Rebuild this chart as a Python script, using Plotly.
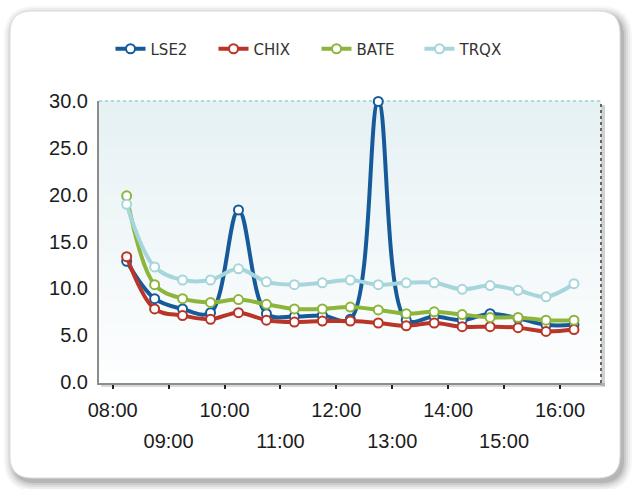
import plotly.graph_objects as go

# ---------------- data ----------------
times = ["2024-01-02 08:15", "2024-01-02 08:45", "2024-01-02 09:15", "2024-01-02 09:45",
         "2024-01-02 10:15", "2024-01-02 10:45", "2024-01-02 11:15", "2024-01-02 11:45",
         "2024-01-02 12:15", "2024-01-02 12:45", "2024-01-02 13:15", "2024-01-02 13:45",
         "2024-01-02 14:15", "2024-01-02 14:45", "2024-01-02 15:15", "2024-01-02 15:45",
         "2024-01-02 16:15"]
lse2 = [12.9, 8.9, 7.8, 7.4, 18.4, 7.3, 7.0, 7.1, 6.7, 30.0, 6.6, 7.0, 6.6, 7.3, 6.8, 6.1, 6.1]
chix = [13.4, 7.8, 7.1, 6.7, 7.4, 6.6, 6.4, 6.5, 6.5, 6.3, 6.0, 6.3, 5.9, 5.9, 5.8, 5.4, 5.6]
bate = [19.9, 10.4, 8.9, 8.5, 8.8, 8.3, 7.8, 7.8, 8.0, 7.7, 7.3, 7.5, 7.2, 6.9, 6.9, 6.6, 6.6]
trqx = [19.0, 12.3, 10.9, 10.9, 12.1, 10.7, 10.4, 10.6, 10.9, 10.4, 10.6, 10.6, 9.9, 10.3, 9.8, 9.1, 10.5]
series_names = ["LSE2", "CHIX", "BATE", "TRQX"]

hour_ticks = ["2024-01-02 08:00", "2024-01-02 09:00", "2024-01-02 10:00", "2024-01-02 11:00",
              "2024-01-02 12:00", "2024-01-02 13:00", "2024-01-02 14:00", "2024-01-02 15:00",
              "2024-01-02 16:00"]
hour_labels = ["08:00", "09:00", "10:00", "11:00", "12:00", "13:00", "14:00", "15:00", "16:00"]
y_ticks = [0, 5, 10, 15, 20, 25, 30]

# ---------------- style ----------------
colors = ["#175a9a", "#b83527", "#8db53c", "#a6d6db"]
W, H = 633, 489
L, R, T, B = 99, 601, 101, 383

def px(x):
    return (x - L) / (R - L)

def py(y):
    return (B - y) / (B - T)

def rrect(x0, y0, x1, y1, r):
    return (f"M {px(x0 + r)},{py(y0)} L {px(x1 - r)},{py(y0)} "
            f"Q {px(x1)},{py(y0)} {px(x1)},{py(y0 + r)} L {px(x1)},{py(y1 - r)} "
            f"Q {px(x1)},{py(y1)} {px(x1 - r)},{py(y1)} L {px(x0 + r)},{py(y1)} "
            f"Q {px(x0)},{py(y1)} {px(x0)},{py(y1 - r)} L {px(x0)},{py(y0 + r)} "
            f"Q {px(x0)},{py(y0)} {px(x0 + r)},{py(y0)} Z")

fig = go.Figure()
for name, vals, col in zip(series_names, [lse2, chix, bate, trqx], colors):
    fig.add_trace(go.Scatter(
        x=times, y=vals, name=name, mode="lines+markers",
        line=dict(color=col, width=4, shape="spline", smoothing=1),
        marker=dict(size=9, color="white", line=dict(color=col, width=2)),
        cliponaxis=False, hoverinfo="skip"))

# helper trace so the second (odd-hour label) axis exists
fig.add_trace(go.Scatter(x=[times[0]], y=[lse2[0]], xaxis="x2", mode="markers",
                         marker=dict(opacity=0), showlegend=False, hoverinfo="skip"))

shapes = []
# frame shadow
FX0, FY0, FX1, FY1, FR = 10, 11, 620, 478, 22
for e, a in [(9, 0.035), (7, 0.045), (5, 0.06), (3, 0.08), (1, 0.10)]:
    shapes.append(dict(type="path", xref="paper", yref="paper", layer="below",
                       path=rrect(FX0 - e + 3, FY0 - e + 4, FX1 + e + 3, FY1 + e + 4, FR + e),
                       fillcolor=f"rgba(0,0,0,{a})", line=dict(width=0)))
# frame
shapes.append(dict(type="path", xref="paper", yref="paper", layer="below",
                   path=rrect(FX0, FY0, FX1, FY1, FR), fillcolor="white",
                   line=dict(color="#dcdcdc", width=1)))
# plot-area gradient
n = 24
top_c = (230, 241, 244)
bot_c = (253, 254, 254)
for i in range(n):
    f = i / (n - 1)
    c = tuple(round(bot_c[k] + (top_c[k] - bot_c[k]) * f) for k in range(3))
    shapes.append(dict(type="rect", xref="paper", yref="paper", layer="below",
                       x0=0, x1=1, y0=i / n, y1=(i + 1) / n + 0.002,
                       fillcolor=f"rgb{c}", line=dict(width=0)))
# right-edge shadow and bottom shadow
shapes.append(dict(type="rect", xref="paper", yref="paper", layer="below",
                   x0=1, x1=px(R + 4), y0=py(B + 3), y1=py(T + 4),
                   fillcolor="rgba(0,0,0,0.18)", line=dict(width=0)))
shapes.append(dict(type="rect", xref="paper", yref="paper", layer="below",
                   x0=px(L + 2), x1=px(R + 4), y0=py(B + 4), y1=0,
                   fillcolor="rgba(0,0,0,0.15)", line=dict(width=0)))
# top dotted border and right dotted border
shapes.append(dict(type="line", xref="paper", yref="paper", layer="below",
                   x0=0, x1=1, y0=1, y1=1, line=dict(color="#9ccfd8", width=1.5, dash="dot")))
shapes.append(dict(type="line", xref="paper", yref="paper", layer="below",
                   x0=1, x1=1, y0=0, y1=1, line=dict(color="#666666", width=2, dash="dot")))

tick_font = dict(family="Liberation Sans, Arial, sans-serif", size=20, color="#1c1c1c")
x_range = ["2024-01-02 07:45:20", "2024-01-02 16:44"]

fig.update_layout(
    width=W, height=H,
    margin=dict(l=L, r=W - R, t=T, b=H - B, pad=0),
    paper_bgcolor="white", plot_bgcolor="rgba(0,0,0,0)",
    shapes=shapes,
    showlegend=True,
    legend=dict(orientation="h", xref="container", yref="container",
                x=0.5, xanchor="center", y=1 - 49 / H, yanchor="middle",
                entrywidth=58, entrywidthmode="pixels",
                font=dict(family="DejaVu Sans, sans-serif", size=15, color="#333333"),
                bgcolor="rgba(0,0,0,0)"),
    xaxis=dict(type="date", range=x_range, tickvals=hour_ticks,
               ticktext=[lab if i % 2 == 0 else "" for i, lab in enumerate(hour_labels)],
               ticks="outside", ticklen=4, tickwidth=2, tickcolor="#222222",
               showline=True, linecolor="#8c8c8c", linewidth=2, mirror=False,
               showgrid=False, zeroline=False, tickfont=tick_font, ticklabelstandoff=4),
    xaxis2=dict(type="date", range=x_range, overlaying="x", anchor="y", side="bottom",
                tickvals=[v for i, v in enumerate(hour_ticks) if i % 2 == 1],
                ticktext=[lab for i, lab in enumerate(hour_labels) if i % 2 == 1],
                ticks="", showline=False, showgrid=False, zeroline=False,
                tickfont=tick_font, ticklabelstandoff=44),
    yaxis=dict(range=[-0.12, 30.05], tickvals=y_ticks, tickformat=".1f",
               ticks="", showline=True, linecolor="#8c8c8c", linewidth=2,
               showgrid=False, zeroline=False, tickfont=tick_font, ticklabelstandoff=5),
)

fig.write_html("out.html", config={"displayModeBar": False},
               post_script="document.body.style.margin='0';")
